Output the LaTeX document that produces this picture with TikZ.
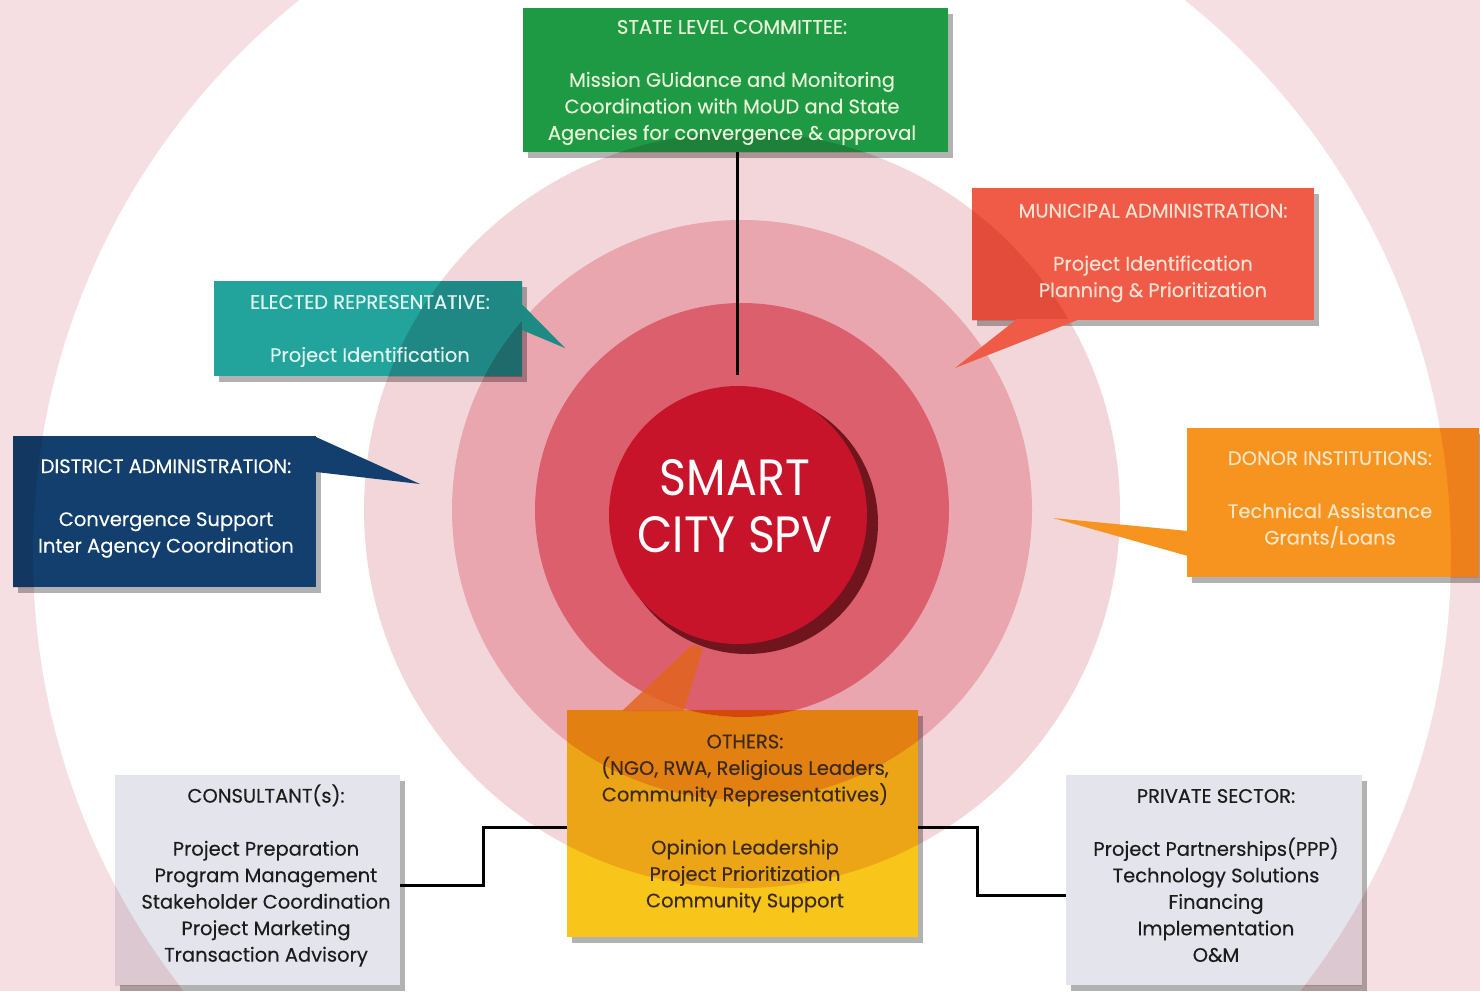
\documentclass[tikz,border=0pt]{standalone}
\usepackage{fontspec}
\setmainfont{Poppins}[FakeBold=0.3]
\newfontfamily\bigfont[FakeStretch=0.9]{Poppins}
\usetikzlibrary{shadows}
\definecolor{bgpink}{HTML}{F6DFE2}
\definecolor{ringA}{HTML}{F3D6DA}
\definecolor{ringB}{HTML}{E9A6AF}
\definecolor{ringC}{HTML}{DB5F6C}
\definecolor{btnred}{HTML}{C8142A}
\definecolor{btndark}{HTML}{5E0910}
\definecolor{cgreen}{HTML}{1F9A44}
\definecolor{cteal}{HTML}{22A39B}
\definecolor{cnavy}{HTML}{133F6E}
\definecolor{cmuni}{HTML}{EF5B46}
\definecolor{cdonor}{HTML}{F7931F}
\definecolor{cyel}{HTML}{F8C51B}
\definecolor{cgray}{HTML}{E4E5EC}
\definecolor{cptr}{HTML}{E2661F}
\definecolor{tgreen}{HTML}{E8F3D8}
\definecolor{tteal}{HTML}{E0F4EF}
\definecolor{tmuni}{HTML}{F9E2D4}
\definecolor{tdonor}{HTML}{FCE6C6}
\definecolor{tbrown}{HTML}{3B2A1C}
\definecolor{tdark}{HTML}{1C1C1C}
\begin{document}
\begin{tikzpicture}[x=1pt,y=-1pt,
  box/.style={rectangle, inner sep=0pt,
    drop shadow={shadow xshift=5pt, shadow yshift=-6pt, opacity=0.3, fill=black},
    path picture={\pgftransformreset
      \begin{scope}[blend mode=multiply]
        \fill[bgpink, even odd rule] (-50,-50) rectangle (1550,1050) (742,554) circle (709pt);
        \fill[ringA, even odd rule] (742,510) circle (378pt) (742,510) circle (290pt);
        \fill[ringB, even odd rule] (742,510) circle (290pt) (742,510) circle (207pt);
        \fill[ringC] (742,510) circle (207pt);
      \end{scope}}},
  txt/.style={inner sep=0pt, align=center, font=\fontsize{19.5}{26.5}\selectfont},
  conn/.style={line width=3pt, black},
]
\useasboundingbox (0,0) rectangle (1480,991);
% background and rings
\fill[bgpink] (0,0) rectangle (1480,991);
\fill[white] (742,554) circle (709pt);
\fill[ringA] (742,510) circle (378pt);
\fill[ringB] (742,510) circle (290pt);
\fill[ringC] (742,510) circle (207pt);
% central button
\fill[btndark, opacity=0.85] (747,523) circle (131pt);
\node[circle, minimum size=258pt, inner sep=0pt, fill=btnred] (spv) at (738,515) {};
\node[inner sep=0pt, text=white, align=center, font=\bigfont\fontsize{51}{57}\selectfont] (spvT) at (735,506) {SMART\\CITY SPV};
\coordinate (linetop) at (737,375);

% boxes
\node[box, fill=cgreen, minimum width=425pt, minimum height=144pt] (state) at (735.5,80) {};
\node[txt, text=tgreen] (stateT) at (732,82.5)
  {STATE LEVEL COMMITTEE:\\[26.5pt]Mission GUidance and Monitoring\\Coordination with MoUD and State\\Agencies for convergence \& approval};

\node[box, fill=cteal, minimum width=308pt, minimum height=95pt] (elected) at (368,328.5) {};
\fill[cteal!85!black] (500,282) -- (565,348) -- (522,330) -- (522,282) -- cycle;
\node[txt, text=tteal] (electedT) at (370,331)
  {ELECTED REPRESENTATIVE:\\[26.5pt]Project Identification};

\node[box, fill=cnavy, minimum width=303pt, minimum height=151pt] (district) at (164.5,511.5) {};
\fill[cnavy] (316,437) -- (420,484) -- (316,472) -- cycle;
\node[txt, text=white] (districtT) at (166,508.5)
  {DISTRICT ADMINISTRATION:\\[26.5pt]Convergence Support\\Inter Agency Coordination};

\node[box, fill=cmuni, minimum width=342pt, minimum height=132pt] (muni) at (1143,254) {};
\fill[cmuni] (1017,319) -- (955,368) -- (1080,319) -- cycle;
\node[txt, text=tmuni] (muniT) at (1153,253)
  {MUNICIPAL ADMINISTRATION:\\[26.5pt]Project Identification\\Planning \& Prioritization};

\node[box, fill=cdonor, minimum width=292pt, minimum height=149pt] (donor) at (1333,502.5) {};
\fill[cdonor] (1188,531) -- (1053,518) -- (1188,556) -- cycle;
\node[txt, text=tdonor] (donorT) at (1330,499.5)
  {DONOR INSTITUTIONS:\\[26.5pt]Technical Assistance\\Grants/Loans};

\node[box, fill=cyel, minimum width=351pt, minimum height=227pt] (others) at (742.5,823.5) {};
\fill[cptr, opacity=0.85] (622,711) -- (692,645) -- (703,648) -- (684,711) -- cycle;
\node[txt, text=tbrown] (othersT) at (745,823.5)
  {OTHERS:\\(NGO, RWA, Religious Leaders,\\Community Representatives)\\[26.5pt]Opinion Leadership\\Project Prioritization\\Community Support};

\node[box, fill=cgray, minimum width=285pt, minimum height=210pt] (cons) at (257.5,880) {};
\node[txt, text=tdark] (consT) at (266,875.5)
  {CONSULTANT(s):\\[26.5pt]Project Preparation\\Program Management\\Stakeholder Coordination\\Project Marketing\\Transaction Advisory};

\node[box, fill=cgray, minimum width=296pt, minimum height=210pt] (priv) at (1214,880) {};
\node[txt, text=tdark] (privT) at (1216,875.5)
  {PRIVATE SECTOR:\\[26.5pt]Project Partnerships(PPP)\\Technology Solutions\\Financing\\Implementation\\O\&M};

% connectors
\draw[conn] (state.south -| linetop) -- (linetop);
\draw[conn] (cons.east |- 0,885) -- (483,885) |- (others.west |- 0,827);
\draw[conn] (others.east |- 0,827) -- (977,827) |- (priv.west |- 0,895);
\end{tikzpicture}
\end{document}
